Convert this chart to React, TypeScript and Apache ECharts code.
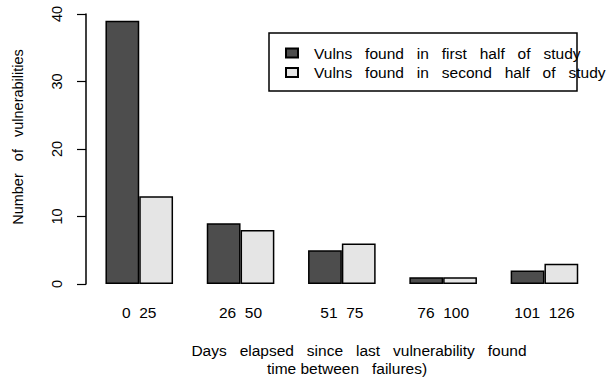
import React, { useEffect, useRef } from "react";
import * as echarts from "echarts";

const categories = ["0  25", "26  50", "51  75", "76  100", "101  126"];
const firstHalf = [39, 9, 5, 1, 2];
const secondHalf = [13, 8, 6, 1, 3];
const seriesNames = [
  "Vulns   found   in   first   half   of   study",
  "Vulns   found   in   second   half   of   study",
];
const yTitle = "Number   of   vulnerabilities";
const xTitle1 = "Days   elapsed   since   last   vulnerability   found";
const xTitle2 = "time between   failures)";

const FONT = "'Liberation Sans', Arial, Helvetica, sans-serif";

export default function App() {
  const ref = useRef<HTMLDivElement>(null);
  useEffect(() => {
    if (!ref.current) return;
    const chart = echarts.init(ref.current, null, { renderer: "svg" });
    chart.setOption({
      animation: false,
      backgroundColor: "#ffffff",
      textStyle: { fontFamily: FONT },
      grid: { left: 88.6, right: 11.9, top: 14, bottom: 97 },
      legend: {
        orient: "vertical",
        left: 280,
        top: 39,
        padding: 5,
        itemWidth: 12,
        itemHeight: 9,
        itemGap: 1.5,
        icon: "rect",
        data: seriesNames,
        textStyle: {
          fontFamily: FONT,
          fontSize: 15.5,
          color: "#000",
          lineHeight: 18,
          padding: [0, 0, 0, 11],
        },
      },
      xAxis: {
        type: "category",
        data: categories,
        axisLine: { show: false },
        axisTick: { show: false },
        axisLabel: { fontSize: 15.5, color: "#000", margin: 20, fontFamily: FONT },
      },
      yAxis: {
        type: "value",
        min: 0,
        max: 40,
        interval: 10,
        offset: 2.6,
        splitLine: { show: false },
        axisLine: { show: true, lineStyle: { color: "#000", width: 1.5 } },
        axisTick: { show: true, length: 9, lineStyle: { color: "#000", width: 1.2 } },
        axisLabel: { rotate: 90, fontSize: 14.5, color: "#000", margin: 22, fontFamily: FONT },
      },
      series: [
        {
          name: seriesNames[0],
          type: "bar",
          data: firstHalf,
          barWidth: 33.8,
          barGap: "0%",
          itemStyle: { color: "#4d4d4d", borderColor: "#000", borderWidth: 1.5 },
        },
        {
          name: seriesNames[1],
          type: "bar",
          data: secondHalf,
          barWidth: 33.8,
          barGap: "0%",
          itemStyle: { color: "#e5e5e5", borderColor: "#000", borderWidth: 1.5 },
        },
      ],
      graphic: [
        {
          type: "rect",
          shape: { x: 269, y: 33, width: 308, height: 58 },
          style: { fill: "none", stroke: "#000", lineWidth: 1.5 },
          z: 10,
        },
        {
          type: "text",
          x: 18,
          y: 137,
          rotation: Math.PI / 2,
          style: {
            text: yTitle,
            fontSize: 14.5,
            fontFamily: FONT,
            fill: "#000",
            textAlign: "center",
            textVerticalAlign: "middle",
          },
        },
        {
          type: "text",
          x: 359,
          y: 350,
          style: {
            text: xTitle1,
            fontSize: 15.5,
            fontFamily: FONT,
            fill: "#000",
            textAlign: "center",
            textVerticalAlign: "middle",
          },
        },
        {
          type: "text",
          x: 347,
          y: 368,
          style: {
            text: xTitle2,
            fontSize: 15.5,
            fontFamily: FONT,
            fill: "#000",
            textAlign: "center",
            textVerticalAlign: "middle",
          },
        },
      ],
    });
    return () => chart.dispose();
  }, []);
  return <div ref={ref} style={{ width: 607, height: 381, position: "absolute", left: 0, top: 0 }} />;
}
